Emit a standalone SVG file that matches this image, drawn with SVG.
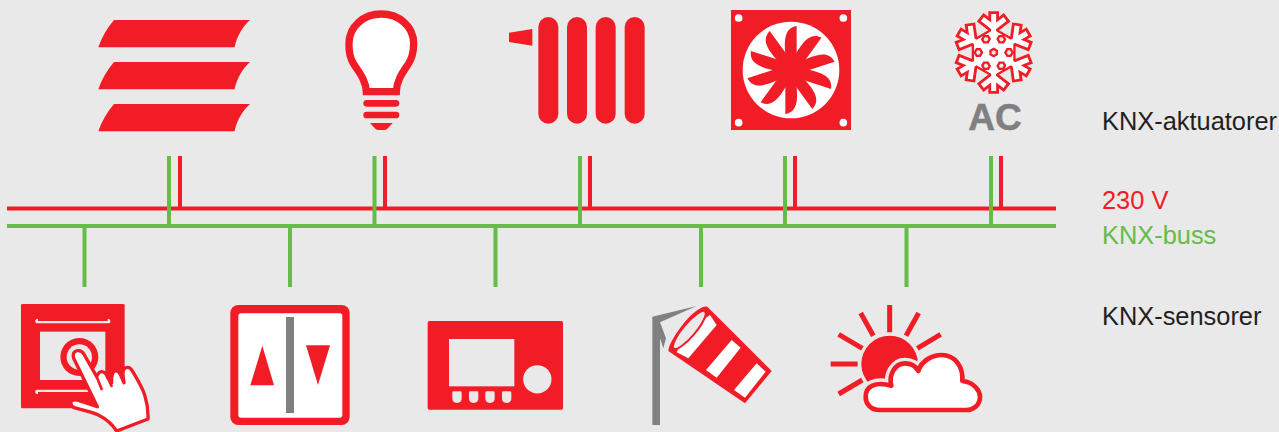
<svg xmlns="http://www.w3.org/2000/svg" xmlns:xlink="http://www.w3.org/1999/xlink" width="1279" height="432" viewBox="0 0 1279 432">
<style>
.r{fill:#f11c26}.w{fill:#fff}.b{fill:#e9e9e9}.g{fill:#808082}
.lr{stroke:#f11c26;stroke-width:4;fill:none}
.lg{stroke:#65bc46;stroke-width:4;fill:none}
.ray{stroke:#f11c26;stroke-width:15;fill:none}
.t{font-family:"Liberation Sans",Arial,sans-serif;font-size:25.4px;fill:#231f20}
</style>
<defs>
<path id="slat" d="M114 20H250C243 26 237 36 234.500 47.300H98.300C102 37 107 28 114 20Z"/>
<path id="blade" d="M-15-30C-20-80-25-125 17-132V-30Z"/>
<path id="arm" d="M0-20V-108M-28-96L0-74L28-96"/>
<path id="pocket" d="M0-57L10-51V-41L0-35L-10-41V-51Z" transform="rotate(30)"/>
<path id="btn" d="M0 4Q0 0 4 0H24Q28 0 28 4V21Q28 35 14 35Q0 35 0 21Z"/>
<rect id="ftube" width="60" height="320" rx="30"/>
</defs>
<rect width="1279" height="432" class="b"/>
<g id="connectors">
<path class="lr" d="M7 208.500H1056M180 156V209M385 156V209M590 156V209M795 156V209M1001 156V209"/>
<path class="lg" d="M7 226H1056M169 156V226M374.500 156V226M580 156V226M785 156V226M991 156V226M84.500 226V287M290 226V287M495.500 226V287M701 226V287M906.500 226V287"/>
</g>
<g id="blinds" class="r">
<use xlink:href="#slat"/><use xlink:href="#slat" y="42"/><use xlink:href="#slat" y="84"/>
</g>
<g id="bulb" transform="translate(80 0) scale(.33333)">
<path class="w" stroke="#f11c26" stroke-width="22" d="M859 275C858 240 835 215 820 190C805 165 807 140 807 130C807 80 850 42 904 42C958 42 1001 80 1001 130C1001 150 1000 170 985 192C970 215 950 240 949 275Z"/>
<rect class="r" x="850" y="300" width="108" height="20" rx="10"/>
<rect class="r" x="850" y="335" width="108" height="20" rx="10"/>
<path class="r" d="M870 369H938L922 386Q918 390 912 390H896Q890 390 886 386Z"/>
</g>
<g id="radiator" class="r" transform="translate(500 0) scale(.33333)">
<path d="M27 98L97 87V137L27 126Z"/>
<use xlink:href="#ftube" x="115" y="51"/><use xlink:href="#ftube" x="201" y="51"/><use xlink:href="#ftube" x="287" y="51"/><use xlink:href="#ftube" x="374" y="51"/>
</g>
<g id="fan" transform="translate(500 0) scale(.33333)">
<rect class="r" x="693" y="30" width="360" height="360"/>
<circle class="w" cx="873" cy="210" r="145"/>
<g class="w"><circle cx="716" cy="54" r="11.500"/><circle cx="1030" cy="54" r="11.500"/><circle cx="716" cy="368" r="11.500"/><circle cx="1030" cy="368" r="11.500"/></g>
<g class="r" transform="translate(873 210)">
<circle r="48"/>
<use xlink:href="#blade"/><use xlink:href="#blade" transform="rotate(36)"/><use xlink:href="#blade" transform="rotate(72)"/><use xlink:href="#blade" transform="rotate(108)"/><use xlink:href="#blade" transform="rotate(144)"/><use xlink:href="#blade" transform="rotate(180)"/><use xlink:href="#blade" transform="rotate(216)"/><use xlink:href="#blade" transform="rotate(252)"/><use xlink:href="#blade" transform="rotate(288)"/><use xlink:href="#blade" transform="rotate(324)"/>
</g>
</g>
<g id="ac">
<g transform="translate(940 0) scale(.33333) translate(161 157.500)" fill="none" stroke-linecap="square">
<g stroke="#f11c26" stroke-width="32">
<use xlink:href="#arm"/><use xlink:href="#arm" transform="rotate(60)"/><use xlink:href="#arm" transform="rotate(120)"/><use xlink:href="#arm" transform="rotate(180)"/><use xlink:href="#arm" transform="rotate(240)"/><use xlink:href="#arm" transform="rotate(300)"/>
</g>
<path class="r" d="M0-76L65.800-38V38L0 76L-65.800 38V-38Z"/>
<path class="w" d="M0-68L58.900-34V34L0 68L-58.900 34V-34Z"/>
<g stroke="#fff" stroke-width="15">
<use xlink:href="#arm"/><use xlink:href="#arm" transform="rotate(60)"/><use xlink:href="#arm" transform="rotate(120)"/><use xlink:href="#arm" transform="rotate(180)"/><use xlink:href="#arm" transform="rotate(240)"/><use xlink:href="#arm" transform="rotate(300)"/>
</g>
<g class="b" stroke="#f11c26" stroke-width="7" stroke-linejoin="miter">
<use xlink:href="#pocket"/><use xlink:href="#pocket" transform="rotate(60)"/><use xlink:href="#pocket" transform="rotate(120)"/><use xlink:href="#pocket" transform="rotate(180)"/><use xlink:href="#pocket" transform="rotate(240)"/><use xlink:href="#pocket" transform="rotate(300)"/>
</g>
<path d="M0-11L9.500-5.500V5.500L0 11L-9.500 5.500V-5.500Z" class="b" stroke="#f11c26" stroke-width="7"/>
</g>
<text x="995" y="130" text-anchor="middle" font-family="Liberation Sans,Arial,sans-serif" font-weight="700" font-size="37" fill="#808082" stroke="#808082" stroke-width=".5">AC</text>
</g>
<g id="switch" transform="translate(0 295) scale(.33333)">
<rect class="r" x="63" y="27" width="311" height="313" rx="4"/>
<rect class="b" x="106" y="72" width="225" height="13" rx="5"/>
<rect class="r" x="114" y="71" width="209" height="7"/>
<rect class="b" x="106" y="284" width="225" height="13" rx="5"/>
<rect class="r" x="114" y="291" width="209" height="7"/>
<rect class="b" x="120" y="110" width="196" height="145"/>
<circle class="r" cx="238" cy="186" r="57"/>
<circle class="b" cx="238" cy="186" r="38"/>
<path class="w" stroke="#f11c26" stroke-width="10" stroke-linejoin="round" d="M221 190Q216 170 232 167Q245 165 252 178L290 245Q298 226 310 231Q318 234 322 246L335 264Q334 232 345 228Q355 225 361 238L372 262Q365 225 375 219Q388 213 396 226C410 250 426 275 434 300C442 325 445 350 444 372L350 408C335 385 315 370 295 360C275 350 250 345 222 338Q210 330 213 321Q218 312 235 316L292 335Z"/>
<path fill="none" stroke="#f11c26" stroke-width="8" d="M290 245L306 285M322 246L336 276M361 238L373 268"/>
</g>
<g id="blind-switch" transform="translate(0 295) scale(.33333)">
<rect class="r" x="691" y="30" width="358" height="360" rx="24"/>
<rect class="w" x="715" y="55" width="312" height="313" rx="8"/>
<rect class="g" x="858" y="66" width="24" height="288"/>
<path class="r" d="M787 152L822 271H751Z"/>
<path class="r" d="M918 151H990L954 270Z"/>
</g>
<g id="controller" transform="translate(420 295) scale(.33333)">
<rect class="r" x="23" y="78" width="406" height="266" rx="5"/>
<rect class="b" x="87" y="132" width="196" height="142"/>
<circle class="b" cx="352" cy="253" r="42.500"/>
<g class="b"><use xlink:href="#btn" x="97" y="289"/><use xlink:href="#btn" x="147" y="289"/><use xlink:href="#btn" x="196" y="289"/><use xlink:href="#btn" x="246" y="289"/></g>
</g>
<g id="windsock" transform="translate(420 295) scale(.33333)">
<path class="g" d="M697 390V65L830 33L720 82L738 130L730 160L720 130V390Z"/>
<path class="r" d="M745 168L975 325L1055 228L862 35C850 30 820 50 795 80C770 110 745 150 745 168Z"/>
<g class="w"><path d="M870 60L890 90L805 190L770 172L800 110Z"/><path d="M935 135L962 158L890 248L858 225Z"/><path d="M1010 205L1037 230L975 308L942 285Z"/></g>
<ellipse class="b" cx="808" cy="105" rx="73" ry="19" stroke="#f11c26" stroke-width="6" transform="rotate(-50 808 105)"/>
</g>
<g id="weather" transform="translate(820 295) scale(.33333)">
<circle class="r" cx="209" cy="207" r="85"/>
<path class="ray" d="M209 30V112M122 54L160 122M296 54L258 122M56 118L127 160M362 118L292 160M32 207H113M56 297L127 255"/>
<path class="w" stroke="#e9e9e9" stroke-width="34" stroke-linejoin="round" d="M180 345C150 345 137 325 137 305C137 275 165 258 214 272C205 240 225 205 255 205C275 205 288 215 295 228C305 195 340 180 365 180C405 180 430 215 427 258C465 262 480 290 480 305C480 330 460 345 440 345Z"/>
<path class="w" stroke="#f11c26" stroke-width="14" stroke-linejoin="round" d="M180 345C150 345 137 325 137 305C137 275 165 258 214 272C205 240 225 205 255 205C275 205 288 215 295 228C305 195 340 180 365 180C405 180 430 215 427 258C465 262 480 290 480 305C480 330 460 345 440 345Z"/>
</g>
<g id="labels">
<text class="t" x="1102" y="130">KNX-aktuatorer</text>
<text class="t" x="1102" y="209" style="fill:#f11c26">230 V</text>
<text class="t" x="1102" y="244" style="fill:#65bc46">KNX-buss</text>
<text class="t" x="1102" y="325">KNX-sensorer</text>
</g>
</svg>
